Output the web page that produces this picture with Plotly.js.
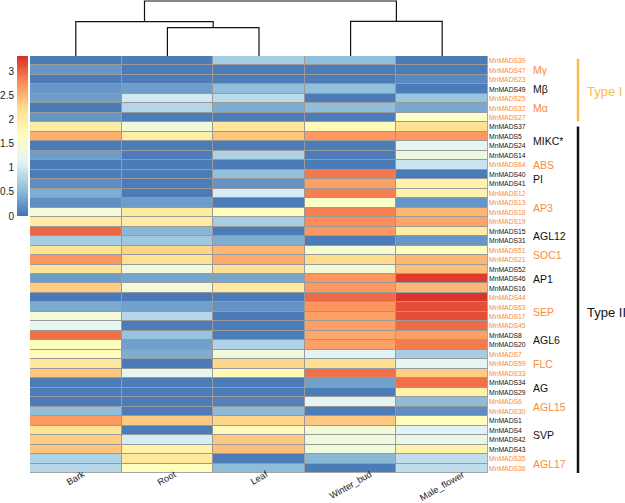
<!DOCTYPE html>
<html>
<head>
<meta charset="utf-8">
<script src="https://cdn.plot.ly/plotly-3.0.1.min.js"></script>
<style>html,body{margin:0;padding:0;background:#fff}</style>
</head>
<body>
<div id="chart" style="width:625px;height:503px"></div>
<script>
const samples = ['Bark', 'Root', 'Leaf', 'Winter_bud', 'Male_flower'];
const genes = ['MnMADS39','MnMADS47','MnMADS23','MnMADS49','MnMADS25','MnMADS32','MnMADS27',
  'MnMADS37','MnMADS5','MnMADS24','MnMADS14','MnMADS64','MnMADS40','MnMADS41','MnMADS12',
  'MnMADS13','MnMADS18','MnMADS19','MnMADS15','MnMADS31','MnMADS51','MnMADS21','MnMADS52',
  'MnMADS46','MnMADS16','MnMADS44','MnMADS63','MnMADS17','MnMADS45','MnMADS8','MnMADS20',
  'MnMADS7','MnMADS59','MnMADS33','MnMADS34','MnMADS29','MnMADS6','MnMADS30','MnMADS1',
  'MnMADS4','MnMADS42','MnMADS43','MnMADS35','MnMADS36'];

const bark = [0.05,0.25,0.05,0.25,0.3,0.05,0.25,2.0,2.55,0.05,0.3,0.05,0.05,0.18,0.42,0.2,1.45,2.0,3.0,0.7,
  2.15,2.72,2.15,0.3,2.35,0.03,0.4,1.45,1.2,2.95,1.7,1.7,2.05,2.4,0.05,0.05,0.05,0.55,2.7,2.15,2.35,2.4,0.76,0.8];
const root = [0.05,0.05,0.05,0.3,1.0,0.8,0.05,1.4,1.95,0.05,0.05,0.05,0.05,0.05,0.05,0.3,2.0,2.0,0.5,0.65,
  2.3,2.2,1.4,0.35,1.4,0.03,0.32,0.8,0.05,0.6,0.32,0.42,0.05,1.22,0.05,0.05,0.05,0.05,2.38,0.05,1.05,1.9,2.05,1.7];
const leaf = [0.7,0.05,0.05,0.55,0.85,0.42,0.05,2.1,2.4,0.05,0.75,0.05,0.56,0.22,1.05,0.05,1.7,0.7,0.05,0.42,
  2.5,2.58,2.2,0.37,2.05,0.05,0.22,0.05,0.05,0.05,0.76,1.4,2.28,1.75,0.05,0.05,0.1,0.52,2.28,1.75,2.38,2.45,0.05,0.53];
const winterBud = [0.56,0.05,0.05,0.56,0.05,0.55,0.05,1.75,2.7,0.05,0.05,0.05,2.9,2.65,2.85,1.6,2.85,2.78,2.7,0.05,
  1.5,2.25,1.45,2.72,2.7,2.98,2.72,2.65,2.65,2.6,2.65,1.12,2.22,2.95,0.32,0.05,1.18,0.05,2.38,1.45,1.38,1.38,0.5,0.05];
const maleFlower = [0.05,0.05,0.15,0.05,0.62,0.38,1.6,2.2,2.7,1.2,1.35,0.95,0.05,1.9,1.9,0.25,2.5,2.62,2.0,0.25,
  1.7,2.5,2.45,3.25,2.5,3.3,3.15,3.15,2.98,2.65,2.88,0.7,1.2,2.35,2.95,1.9,0.53,0.18,1.7,1.12,1.28,1.9,0.88,0.88];

const groupLabels = ['Mγ','Mβ','Mα','MIKC*','ABS','PI','AP3','AGL12','SOC1','AP1','SEP','AGL6','FLC','AG','AGL15','SVP','AGL17'];
const groupSizes  = [3,1,3,4,1,2,4,2,2,3,4,2,3,2,2,4,2];
const typeLabels = ['Type I', 'Type II'];
const typeGroupCounts = [3, 14];

// column dendrogram: merge pairs (string = sample, number = earlier merge) and heights
const dendroPairs = [['Root','Leaf'], ['Bark', 0], ['Winter_bud','Male_flower'], [1, 2]];
const dendroHeights = [28.3, 34.3, 34.7, 55];

const colorTicks = [0, 0.5, 1, 1.5, 2, 2.5, 3];

// ---------- build ----------
const ORANGE = '#F98B3E', BLACK = '#111111', TYPE1 = '#FBBA4A';
const FONT = 'Liberation Sans, Arial, sans-serif';
const W = 625, H = 503, ML = 30, MR = 137, MT = 0, MB = 30;
const PW = W - ML - MR, PH = H - MT - MB;
const heatTopPx = 56;
const py = px => (H - MB - px) / PH;   // page px -> paper y
const pxX = px => (px - ML) / PW;      // page px -> paper x

const idx = genes.map((g, i) => i);
const z = genes.map((g, i) => [bark[i], root[i], leaf[i], winterBud[i], maleFlower[i]]);

const geneGroup = [];
groupSizes.forEach((n, gi) => { for (let k = 0; k < n; k++) geneGroup.push(gi); });
const groupColor = gi => (gi % 2 === 0 ? ORANGE : BLACK);
const ticktext = genes.map((g, i) => `<span style="color:${groupColor(geneGroup[i])}">${g}</span>`);

const heat = {
  type: 'heatmap', z: z, x: samples.map((s, i) => i), y: idx,
  xaxis: 'x', yaxis: 'y',
  colorscale: [[0,'#4575B4'],[1/6,'#91BFDB'],[2/6,'#E0F3F8'],[3/6,'#FFFFBF'],[4/6,'#FEE090'],[5/6,'#FC8D59'],[1,'#D73027']],
  zmin: 0, zmax: 3.33, xgap: 1, ygap: 1, hoverinfo: 'skip',
  colorbar: {
    x: pxX(17), xanchor: 'left', y: py((56 + 216) / 2), yanchor: 'middle',
    thickness: 11, thicknessmode: 'pixels', len: 160, lenmode: 'pixels',
    xpad: 0, ypad: 0, outlinewidth: 0, showticklabels: false, ticks: ''
  }
};

// dendrogram segments
const nodes = [];
const nodePos = ref => (typeof ref === 'string' ? { x: samples.indexOf(ref), h: 0 } : nodes[ref]);
const dx = [], dy = [];
dendroPairs.forEach((pair, k) => {
  const a = nodePos(pair[0]), b = nodePos(pair[1]);
  const h = dendroHeights[k];
  dx.push(a.x, a.x, b.x, b.x, null);
  dy.push(a.h, h, h, b.h, null);
  nodes.push({ x: (a.x + b.x) / 2, h: h });
});
const dendro = {
  type: 'scatter', mode: 'lines', x: dx, y: dy, xaxis: 'x', yaxis: 'y2',
  line: { color: '#111', width: 1.2 }, hoverinfo: 'skip', cliponaxis: false
};

const cbAxisDummy = { type: 'scatter', mode: 'lines', x: [0], y: [-10], xaxis: 'x3', yaxis: 'y3', hoverinfo: 'skip', line: {width: 0} };

const annotations = [];
samples.forEach((s, i) => annotations.push({
  x: i, xref: 'x', y: py(466), yref: 'paper', xanchor: 'center', yanchor: 'top',
  text: s, textangle: -30, showarrow: false, font: { family: FONT, size: 9.2, color: '#222' }
}));
let start = 0;
groupLabels.forEach((lab, gi) => {
  const n = groupSizes[gi];
  annotations.push({
    x: pxX(531), xref: 'paper', y: start + (n - 1) / 2, yref: 'y', xanchor: 'left', yanchor: 'middle',
    text: lab, showarrow: false, font: { family: FONT, size: 10.5, color: groupColor(gi) }
  });
  start += n;
});
const shapes = [
  { type: 'rect', layer: 'below', xref: 'x', yref: 'y', x0: -0.5, x1: 4.5, y0: -0.5, y1: genes.length - 0.5,
    fillcolor: '#9a9a9a', line: { color: '#b0b0b0', width: 1 } }
];
let gStart = 0, rowStart = 0;
typeLabels.forEach((lab, ti) => {
  let rows = 0;
  for (let g = gStart; g < gStart + typeGroupCounts[ti]; g++) rows += groupSizes[g];
  const col = ti === 0 ? TYPE1 : BLACK;
  shapes.push({ type: 'line', xref: 'paper', yref: 'y', x0: pxX(578), x1: pxX(578),
    y0: rowStart - 0.5 + (ti === 0 ? 0.3 : 0.45), y1: rowStart + rows - 0.5 - (ti === 0 ? 0.1 : 0),
    line: { color: col, width: 2.5 } });
  annotations.push({
    x: pxX(585), xref: 'paper', y: ti === 0 ? rowStart + (rows - 1) / 2 + 0.2 : 26.6, yref: 'y',
    xanchor: 'left', yanchor: 'middle', text: lab, showarrow: false,
    font: { family: FONT, size: 13, color: col }
  });
  gStart += typeGroupCounts[ti];
  rowStart += rows;
});

const layout = {
  width: W, height: H, margin: { l: ML, r: MR, t: MT, b: MB, pad: 0 },
  paper_bgcolor: '#fff', plot_bgcolor: 'rgba(0,0,0,0)', showlegend: false,
  font: { family: FONT },
  xaxis: { domain: [0, 1], range: [-0.5, 4.5], showticklabels: false, ticks: '', showgrid: false, zeroline: false, showline: false, anchor: 'y', fixedrange: true },
  yaxis: { domain: [0, py(heatTopPx)], range: [genes.length - 0.5, -0.5], side: 'right', tickvals: idx, ticktext: ticktext,
    tickfont: { family: FONT, size: 6.8 }, ticks: '', showgrid: false, zeroline: false, showline: false, anchor: 'x', fixedrange: true },
  yaxis2: { domain: [py(heatTopPx), 1], range: [0, 56], visible: false, anchor: 'x', fixedrange: true },
  xaxis3: { domain: [0, 0.01], visible: false, anchor: 'y3', range: [0, 1] },
  yaxis3: { domain: [py(216), py(56)], range: [0, 3.33], anchor: 'free', position: 0, side: 'left',
    tickvals: colorTicks, ticks: 'outside', ticklen: 14, tickcolor: 'rgba(0,0,0,0)', showgrid: false, zeroline: false, showline: false,
    tickfont: { family: FONT, size: 10, color: '#222' }, fixedrange: true },
  shapes: shapes, annotations: annotations
};

Plotly.newPlot('chart', [heat, dendro, cbAxisDummy], layout, { staticPlot: true, displayModeBar: false });
</script>
</body>
</html>
